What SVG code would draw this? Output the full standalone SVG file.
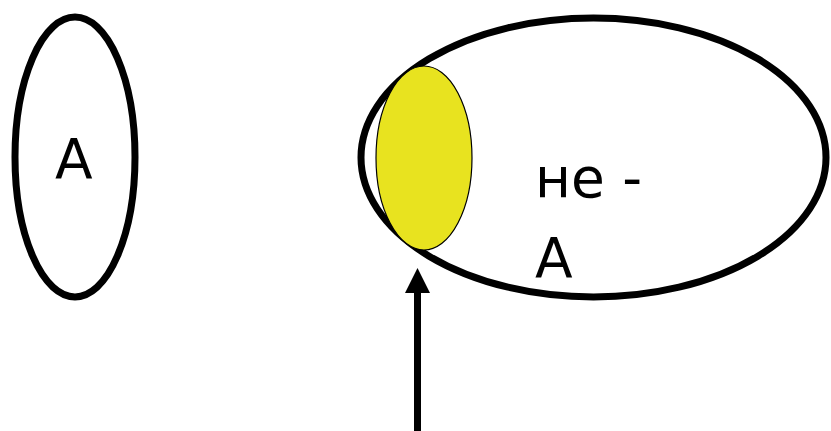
<svg xmlns="http://www.w3.org/2000/svg" width="831" height="431" viewBox="0 0 831 431">
<style>
.ring{fill:none;stroke:#000;stroke-width:7}
.lbl{font-family:"DejaVu Sans",sans-serif;font-size:55px;fill:#000}
</style>
<rect width="831" height="431" fill="#fff"/>
<g id="nodeA">
<ellipse class="ring" cx="75" cy="157" rx="60" ry="140"/>
<text class="lbl" x="55" y="178">A</text>
</g>
<g id="nodeNotA">
<ellipse class="ring" cx="593.5" cy="157.5" rx="232.5" ry="139.5"/>
<text class="lbl" x="535" y="197">не -</text>
<text class="lbl" x="535" y="277">A</text>
</g>
<g id="nodeYellow">
<ellipse cx="424" cy="158" rx="48" ry="92" fill="#e8e31f" stroke="#000" stroke-width="1.2"/>
</g>
<g id="connectors">
<line x1="417.5" y1="431" x2="417.5" y2="290" stroke="#000" stroke-width="7"/>
<polygon points="417.5,268 430,293 405,293" fill="#000"/>
</g>
</svg>
